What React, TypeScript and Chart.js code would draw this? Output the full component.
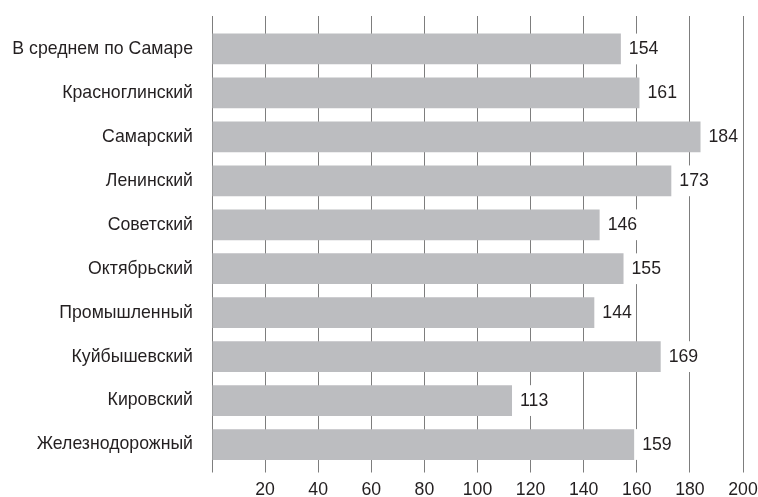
import React, { useEffect, useRef } from 'react';
import { Chart, registerables } from 'chart.js';

Chart.register(...registerables);

const categories = [
  'В среднем по Самаре',
  'Красноглинский',
  'Самарский',
  'Ленинский',
  'Советский',
  'Октябрьский',
  'Промышленный',
  'Куйбышевский',
  'Кировский',
  'Железнодорожный',
];
const values = [154, 161, 184, 173, 146, 155, 144, 169, 113, 159];
const axisMin = 0;
const axisMax = 200;
const axisStep = 20;

const FONT = '"Liberation Sans", Arial, Helvetica, sans-serif';
const FSIZE = 17.7;
const TEXT = '#231f20';
const GRID = '#7d7d7d';
const BAR = '#bcbdc0';

const valueLabels = {
  id: 'valueLabels',
  afterDatasetsDraw(chart: any) {
    const ctx = chart.ctx;
    const meta = chart.getDatasetMeta(0);
    ctx.save();
    ctx.font = `${FSIZE}px ${FONT}`;
    ctx.textAlign = 'left';
    ctx.textBaseline = 'middle';
    meta.data.forEach((el: any, i: number) => {
      const txt = String(values[i]);
      const w = ctx.measureText(txt).width;
      const x = el.x;
      const y = el.y;
      const h = el.height || 30;
      ctx.fillStyle = '#ffffff';
      ctx.fillRect(x + 1, y - h / 2, w + 11, h);
      ctx.fillStyle = TEXT;
      ctx.fillText(txt, x + 8, y + 0.5);
    });
    ctx.restore();
  },
};

export default function App() {
  const ref = useRef<HTMLCanvasElement | null>(null);
  useEffect(() => {
    document.body.style.margin = '0';
    if (!ref.current) return;
    const chart = new Chart(ref.current, {
      type: 'bar',
      data: {
        labels: categories,
        datasets: [
          {
            data: values,
            backgroundColor: BAR,
            borderWidth: 0,
            barPercentage: 0.7,
            categoryPercentage: 1,
          },
        ],
      },
      options: {
        indexAxis: 'y',
        animation: false,
        responsive: true,
        maintainAspectRatio: false,
        layout: { padding: { top: 16, left: 0, right: 15, bottom: 0 } },
        plugins: { legend: { display: false }, tooltip: { enabled: false } },
        scales: {
          x: {
            type: 'linear',
            position: 'bottom',
            min: axisMin,
            max: axisMax,
            border: { display: false },
            grid: { color: GRID, lineWidth: 1, tickLength: 6, drawTicks: true },
            afterFit: (s: any) => {
              s.height = 30.5;
              s.paddingLeft = 0;
              s.paddingRight = 0;
            },
            ticks: {
              stepSize: axisStep,
              padding: 8.5,
              color: TEXT,
              font: { family: FONT, size: FSIZE, lineHeight: 1 },
              callback: (v: any) => (v === 0 ? '' : String(v)),
            },
          },
          x2: {
            type: 'linear',
            position: 'top',
            min: axisMin,
            max: axisMax,
            border: { display: false },
            grid: { color: GRID, lineWidth: 1, tickLength: 11, drawOnChartArea: false, drawTicks: true },
            ticks: { display: false, stepSize: axisStep },
          },
          y: {
            type: 'category',
            position: 'left',
            border: { display: false },
            grid: { display: false, drawTicks: false },
            afterFit: (s: any) => {
              s.width = 212;
              s.paddingTop = 0;
              s.paddingBottom = 0;
            },
            ticks: {
              padding: 19,
              color: TEXT,
              font: { family: FONT, size: FSIZE },
            },
          },
        },
      },
      plugins: [valueLabels],
    });
    return () => chart.destroy();
  }, []);
  return (
    <div style={{ position: 'relative', width: 758, height: 497 }}>
      <canvas ref={ref} />
    </div>
  );
}
